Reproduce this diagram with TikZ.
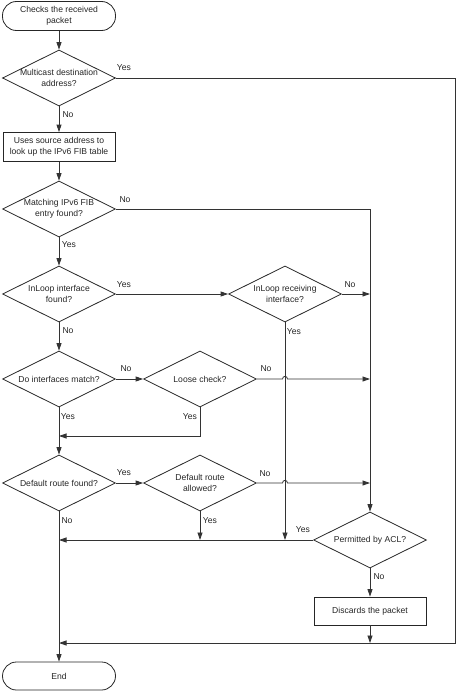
\documentclass[tikz,border=0pt]{standalone}
\usepackage{fontspec}
\setmainfont{Liberation Sans}
\usetikzlibrary{shapes.geometric,arrows.meta}
\begin{document}
\begin{tikzpicture}[x=1pt,y=-1pt,
  every node/.style={font=\fontsize{8.6}{11}\selectfont, text=black!85},
  line/.style={draw=black!80, line width=0.8pt},
  arr/.style={line, -{Triangle[length=7.5pt,width=5pt]}},
  term/.style={draw=black!85, line width=0.8pt, rectangle, rounded corners=14pt, minimum width=113pt, minimum height=29pt, inner sep=0pt, align=center},
  proc/.style={draw=black!85, line width=0.8pt, rectangle, minimum width=112pt, minimum height=29pt, inner sep=0pt, align=center},
  dec/.style={draw=black!85, line width=0.8pt, diamond, aspect=2.03, minimum width=113pt, minimum height=56pt, inner sep=0pt, align=center},
  lab/.style={inner sep=0pt}
]
\useasboundingbox (0,0) rectangle (457,693);

\node[term] (start) at (59,16) {Checks the received\\packet};
\node[dec] (d1) at (59,78) {Multicast destination\\address?};
\node[proc] (b1) at (59,147) {Uses source address to\\look up the IPv6 FIB table};
\node[dec] (d2) at (59,209) {Matching IPv6 FIB\\entry found?};
\node[dec] (d3) at (59,294) {InLoop interface\\found?};
\node[dec] (d4) at (285,294) {InLoop receiving\\interface?};
\node[dec] (d5) at (59,379) {Do interfaces match?};
\node[dec] (d6) at (200,379) {Loose check?};
\node[dec] (d7) at (59,483) {Default route found?};
\node[dec] (d8) at (200,483) {Default route\\allowed?};
\node[dec] (acl) at (370,540) {Permitted by ACL?};
\node[proc, minimum height=28pt] (disc) at (370,611) {Discards the packet};
\node[term, minimum height=28pt] (end) at (59,676) {End};

\coordinate (c1) at (455,78);
\coordinate (c2) at (455,643);
\coordinate (c3) at (59,643);
\coordinate (c4) at (370,209);
\coordinate (c5) at (370,294);
\coordinate (c6) at (285,540);
\coordinate (c7) at (370,379);
\coordinate (c8) at (200,436);
\coordinate (c9) at (59,436);
\coordinate (c10) at (370,483);
\coordinate (c11) at (200,540);
\coordinate (c12) at (59,540);
\coordinate (c13) at (370,643);

\draw[arr] (start) -- (d1);
\draw[arr] (d1.east) -- (c1) -- (c2) -- (c3);
\draw[arr] (d1) -- (b1);
\draw[arr] (b1) -- (d2);
\draw[arr] (d2.east) -- (c4) -- (acl.north);
\draw[arr] (d2) -- (d3);
\draw[arr] (d3.east) -- (d4.west);
\draw[arr] (d4.east) -- (c5);
\draw[arr] (d4.south) -- (c6);
\draw[arr] (d3) -- (d5);
\draw[arr] (d5.east) -- (d6.west);
\draw[arr] (d6.east) -- (282.5,379) .. controls (282.5,375.5) and (287.5,375.5) .. (287.5,379) -- (c7);
\draw[arr] (d6.south) -- (c8) -- (c9);
\draw[arr] (d5) -- (d7);
\draw[arr] (d7.east) -- (d8.west);
\draw[arr] (d8.east) -- (282.5,483) .. controls (282.5,479.5) and (287.5,479.5) .. (287.5,483) -- (c10);
\draw[arr] (d8.south) -- (c11);
\draw[arr] (acl.west) -- (c12);
\draw[arr] (acl) -- (disc);
\draw[arr] (disc) -- (c13);
\draw[arr] (d7) -- (end);

\node[lab] (l1) at (124,68) {Yes};
\node[lab] (l2) at (68,115) {No};
\node[lab] (l3) at (125,200) {No};
\node[lab] (l4) at (69,245) {Yes};
\node[lab] (l5) at (124,285) {Yes};
\node[lab] (l6) at (350,285) {No};
\node[lab] (l7) at (294,332) {Yes};
\node[lab] (l8) at (68,331) {No};
\node[lab] (l9) at (126,369) {No};
\node[lab] (l10) at (266,369) {No};
\node[lab] (l11) at (68,417) {Yes};
\node[lab] (l12) at (190,417) {Yes};
\node[lab] (l13) at (124,473) {Yes};
\node[lab] (l14) at (265,474) {No};
\node[lab] (l15) at (67,521) {No};
\node[lab] (l16) at (210,521) {Yes};
\node[lab] (l17) at (303,530) {Yes};
\node[lab] (l18) at (379,577) {No};
\end{tikzpicture}
\end{document}
